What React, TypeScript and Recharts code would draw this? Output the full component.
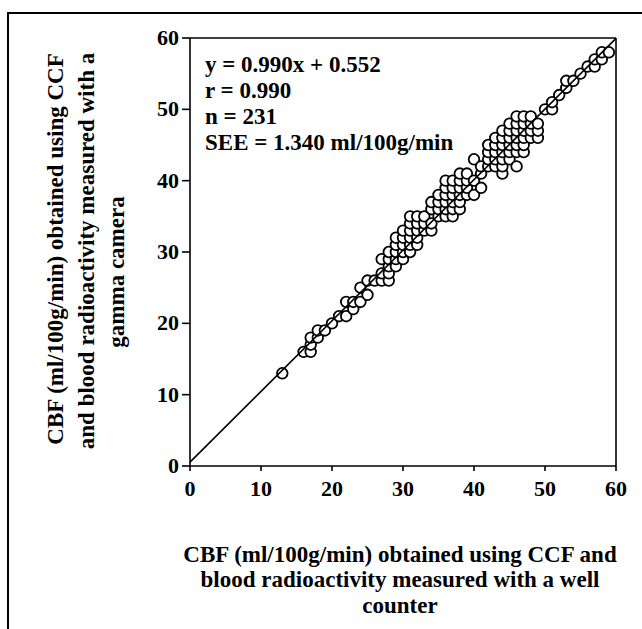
import { CartesianGrid, Scatter, ScatterChart, XAxis, YAxis } from 'recharts';

// Integer x positions of the circles and, for each, the y values drawn there.
const xValues = [
  13, 16, 17, 18, 19, 20, 21, 22, 23, 24, 25, 26, 27, 28, 29, 30, 31, 32, 33, 34, 35, 36, 37,
  38, 39, 40, 41, 42, 43, 44, 45, 46, 47, 48, 49, 50, 51, 52, 53, 54, 55, 56, 57, 58, 59,
];
const yByX = [
  [13], [16], [16, 17, 18], [18, 19], [19], [20], [21], [21, 23], [22, 23], [23, 25], [24, 26],
  [26], [26, 27, 29], [26, 27, 28, 29, 30], [28, 29, 30, 31, 32], [29, 30, 31, 32, 33],
  [30, 31, 32, 33, 34, 35], [31, 32, 33, 34, 35], [33, 34, 35], [33, 34, 36, 37], [35, 36, 37, 38],
  [35, 36, 37, 38, 39, 40], [35, 36, 37, 38, 39, 40], [36, 37, 38, 39, 40, 41], [38, 39, 40, 41],
  [38, 40, 43], [39, 41, 42], [42, 43, 44, 45], [42, 43, 44, 45, 46], [41, 42, 43, 44, 45, 46, 47],
  [43, 44, 45, 46, 47, 48], [42, 44, 45, 46, 47, 48, 49], [44, 45, 46, 47, 48, 49], [46, 47, 48, 49],
  [46, 47, 48], [50], [50, 51], [52], [53, 54], [54], [55], [56], [56, 57], [57, 58], [58],
];

const axisTicks = [0, 10, 20, 30, 40, 50, 60];
const boxEdge = [60];
const regSlope = 0.99;
const regIntercept = 0.552;
const regX = [0, 60];

const statLines = ['y = 0.990x + 0.552', 'r = 0.990', 'n = 231', 'SEE = 1.340 ml/100g/min'];
const xTitle = ['CBF (ml/100g/min) obtained using CCF and', 'blood radioactivity measured with a well', 'counter'];
const yTitle = ['CBF (ml/100g/min) obtained using CCF', 'and blood radioactivity measured with a', 'gamma camera'];

const points = xValues.flatMap((x, i) => yByX[i].map((y) => ({ x, y })));
const regLine = regX.map((x) => ({ x, y: regSlope * x + regIntercept }));

const serif = '"Liberation Serif", "Times New Roman", serif';
const ink = { stroke: '#000', strokeWidth: 1.6 };

const Ring = (props: { cx?: number; cy?: number }) => (
  <circle cx={props.cx} cy={props.cy} r={5.3} fill="#fff" stroke="#000" strokeWidth={1.8} />
);

type TickProps = { x?: number; y?: number; payload?: { value: number } };

const XTick = ({ x, y, payload }: TickProps) => (
  <text x={x} y={y} dy={15} textAnchor="middle" fontSize={22} fontWeight="bold" fontFamily={serif} fill="#000">
    {payload?.value}
  </text>
);

const YTick = ({ x, y, payload }: TickProps) => (
  <text x={x} y={y} dy={7} textAnchor="end" fontSize={22} fontWeight="bold" fontFamily={serif} fill="#000">
    {payload?.value}
  </text>
);

// rotated y title lines: [centre x, centre y]
const yTitlePos = [
  [56, 249],
  [87, 251],
  [117, 272],
];

export default function App() {
  return (
    <div
      style={{
        position: 'absolute',
        left: 0,
        top: 0,
        width: 642,
        height: 629,
        overflow: 'hidden',
        background: '#fff',
        fontFamily: serif,
        fontWeight: 'bold',
        color: '#000',
      }}
    >
      <div
        style={{
          position: 'absolute',
          left: 7,
          top: 12,
          width: 700,
          height: 700,
          borderLeft: '2px solid #000',
          borderTop: '2px solid #000',
        }}
      />
      <div style={{ position: 'absolute', left: 0, top: 0 }}>
        <ScatterChart width={642} height={629} margin={{ top: 38, right: 26, left: 0, bottom: 0 }}>
          <CartesianGrid
            horizontalValues={boxEdge}
            verticalValues={boxEdge}
            stroke="#000"
            strokeWidth={1.6}
            strokeOpacity={1}
          />
          <XAxis
            type="number"
            dataKey="x"
            domain={[0, 60]}
            ticks={axisTicks}
            interval={0}
            height={163}
            tickSize={5}
            tickMargin={10}
            axisLine={ink}
            tickLine={ink}
            tick={<XTick />}
          />
          <YAxis
            type="number"
            dataKey="y"
            domain={[0, 60]}
            ticks={axisTicks}
            interval={0}
            width={190}
            tickSize={8}
            tickMargin={3}
            axisLine={ink}
            tickLine={ink}
            tick={<YTick />}
          />
          <Scatter data={points} shape={<Ring />} isAnimationActive={false} />
          <Scatter data={regLine} line={ink} shape={() => <g />} isAnimationActive={false} />
        </ScatterChart>
      </div>

      <div style={{ position: 'absolute', left: 205, top: 52, fontSize: 23, lineHeight: '26px', whiteSpace: 'nowrap' }}>
        {statLines.map((s) => (
          <div key={s}>{s}</div>
        ))}
      </div>

      <div
        style={{
          position: 'absolute',
          left: 150,
          width: 500,
          top: 541.5,
          fontSize: 23,
          lineHeight: '25.5px',
          textAlign: 'center',
          whiteSpace: 'nowrap',
        }}
      >
        {xTitle.map((s) => (
          <div key={s}>{s}</div>
        ))}
      </div>

      {yTitle.map((s, i) => (
        <div
          key={s}
          style={{
            position: 'absolute',
            left: yTitlePos[i][0],
            top: yTitlePos[i][1],
            fontSize: 23,
            lineHeight: '26px',
            whiteSpace: 'nowrap',
            transform: 'translate(-50%, -50%) rotate(-90deg)',
          }}
        >
          {s}
        </div>
      ))}
    </div>
  );
}
